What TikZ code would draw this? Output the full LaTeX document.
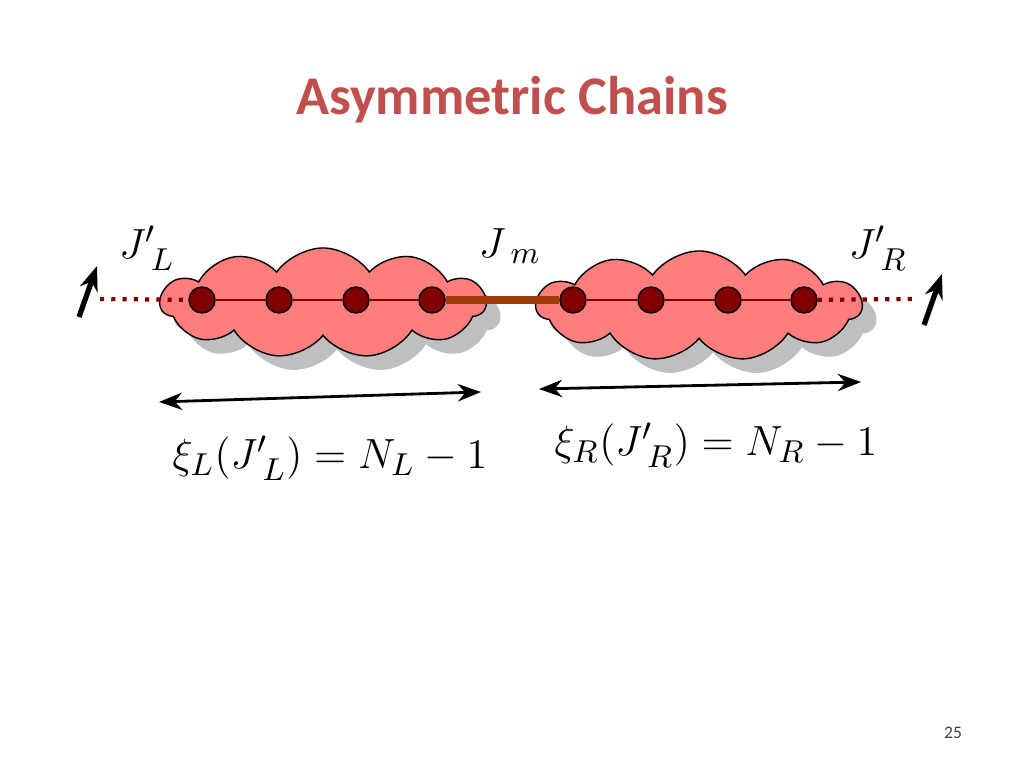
\documentclass[tikz,border=0pt]{standalone}
\usepackage{fontspec}
\newfontfamily\titlefont{Carlito}
\usepackage{tikz}
\usetikzlibrary{shapes.symbols,shadows,arrows.meta}
\definecolor{titlered}{RGB}{192,80,77}
\definecolor{blob}{RGB}{255,125,125}
\definecolor{site}{RGB}{128,0,0}
\definecolor{bond}{RGB}{160,60,10}
\tikzstyle{cl} = [cloud,cloud puffs=11,cloud puff arc=110,aspect=3,draw=black,thin,fill=blob,drop shadow={shadow xshift=4pt,shadow yshift=-4pt,fill=gray},minimum width=3.25cm,minimum height=1.1cm]
\tikzstyle{atom} = [circle,draw=black,thin,fill=site,minimum size=0.26cm,inner sep=0]
\tikzstyle{lbl} = [inner sep=0,font=\fontsize{13}{15}\selectfont]

\begin{document}
\begin{tikzpicture}[x=0.01cm,y=-0.01cm,post/.style={Stealth-Stealth,thick,black}]
    \useasboundingbox (0,0) rectangle (1024,768);

    \node[font=\titlefont\bfseries\fontsize{15.5}{18}\selectfont,text=titlered] (title) at (512,100) {Asymmetric Chains};

    \node[cl] (cloudL) at (323,303) {};
    \node[cl] (cloudR) at (699,306) {};

    \node[atom] (l1) at (202,300) {};
    \node[atom] (l2) at (279,300) {};
    \node[atom] (l3) at (356,300) {};
    \node[atom] (l4) at (432,300) {};
    \node[atom] (r1) at (573,300) {};
    \node[atom] (r2) at (651,300) {};
    \node[atom] (r3) at (728,300) {};
    \node[atom] (r4) at (804,300) {};

    \coordinate (endL) at (100,299);
    \coordinate (endR) at (915,299);

    \draw[site,line width=1.2pt,dotted] (endL) -- (l1);
    \draw[site,line width=1.2pt,dotted] (r4) -- (endR);
    \draw[site,thick] (l1) -- (l2) -- (l3) -- (l4);
    \draw[site,thick] (r1) -- (r2) -- (r3) -- (r4);
    \draw[bond,line width=2pt] (l4) -- (r1);

    \coordinate (sLa) at (79,317);
    \coordinate (sLb) at (97,266);
    \coordinate (sRa) at (924,325);
    \coordinate (sRb) at (942,274);
    \draw[-{Stealth[length=7pt]},line width=1.5pt] (sLa) -- (sLb);
    \draw[-{Stealth[length=7pt]},line width=1.5pt] (sRa) -- (sRb);

    \coordinate (aLa) at (159,402);
    \coordinate (aLb) at (481,392);
    \coordinate (aRa) at (539,389);
    \coordinate (aRb) at (861,382);
    \draw[post] (aLa) -- (aLb);
    \draw[post] (aRa) -- (aRb);

    \node[lbl] (JL) at (147,248) {$J'_{\;L}$};
    \node[lbl] (Jm) at (510,246) {$J_{\;m}$};
    \node[lbl] (JR) at (878,248) {$J'_{\;R}$};

    \node[lbl] (xiL) at (330,458) {$\xi_L(J'_{\;L}) = N_L - 1$};
    \node[lbl] (xiR) at (716,445) {$\xi_R(J'_{\;R}) = N_R - 1$};

    \node[font=\titlefont\fontsize{5}{6}\selectfont,text=darkgray] (page) at (953,733) {25};
\end{tikzpicture}
\end{document}
